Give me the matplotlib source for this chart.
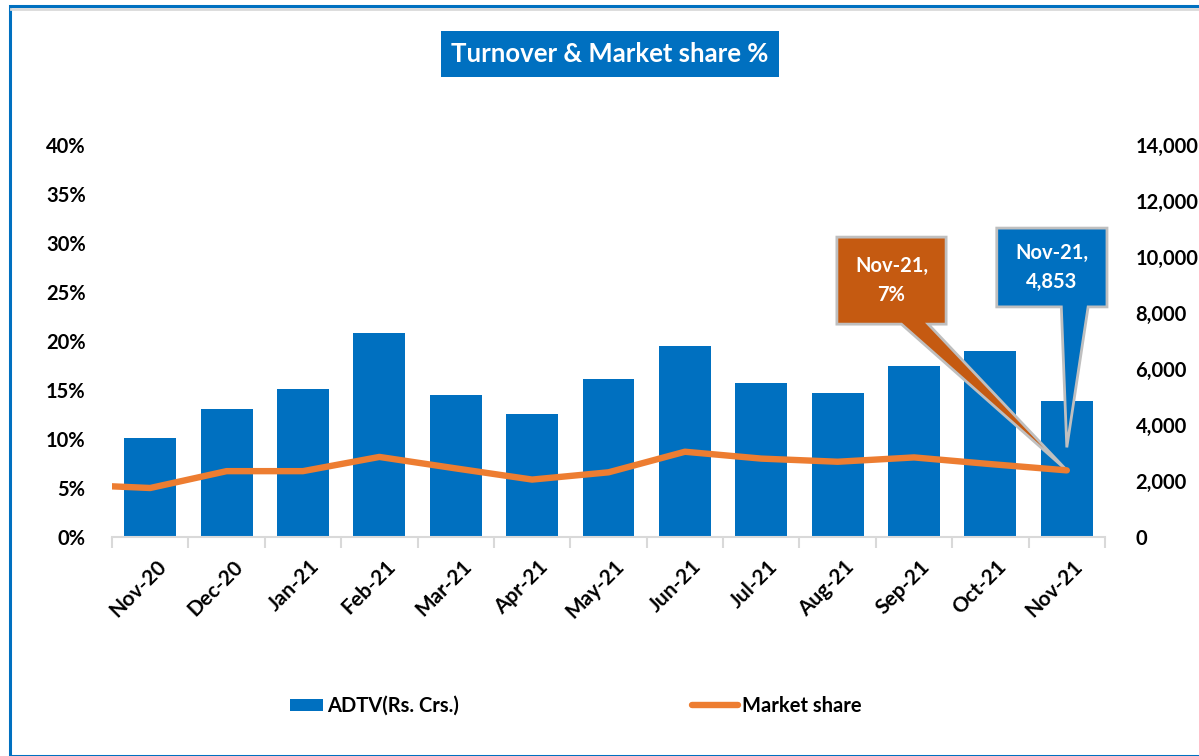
import numpy as np
import matplotlib.pyplot as plt
from matplotlib.patches import Polygon, Rectangle
from matplotlib.transforms import ScaledTranslation

# Donnees
mois = ["Nov-20", "Dec-20", "Jan-21", "Feb-21", "Mar-21", "Apr-21", "May-21",
        "Jun-21", "Jul-21", "Aug-21", "Sep-21", "Oct-21", "Nov-21"]
adtv = [3550, 4560, 5270, 7300, 5070, 4410, 5630, 6810, 5500, 5150, 6110, 6660, 4853]
# la ligne commence avant Nov-20 (point precedent coupe au bord du graphique)
part_prec = 5.34
part_marche = [5.0, 6.72, 6.72, 8.17, 7.0, 5.86, 6.6, 8.7, 8.0, 7.68, 8.12, 7.44, 6.8]

bleu = "#0070C0"
orange = "#ED7D31"
orange_fonce = "#C55A11"
police = "Lato"

plt.rcParams['font.family'] = [police, 'DejaVu Sans']
plt.rcParams['font.weight'] = 'bold'

W, H = 1199, 756
fig = plt.figure(figsize=(W / 100, H / 100), dpi=100)
fig.patch.set_facecolor("white")

# cadre bleu (haut + gauche) et ligne grise en bas
fig.add_artist(Rectangle((10 / W, 0.5 / H), 1.2, (H - 6.5) / H, transform=fig.transFigure,
                         fill=False, edgecolor=bleu, linewidth=2.2))
fig.add_artist(plt.Line2D([11 / W, 1], [(H - 9) / H] * 2, transform=fig.transFigure,
                          color="#D9D9D9", linewidth=2))

ax = fig.add_axes([112 / W, (H - 537) / H, (1105 - 112) / W, 392 / H])
ax2 = ax.twinx()

x = np.arange(len(mois))
barres = ax.bar(x, adtv, width=0.68, color=bleu, zorder=2, label="ADTV(Rs. Crs.)")
ax.set_ylim(0, 14000)
ax.set_xlim(-0.5, len(mois) - 0.5)
ax.yaxis.tick_right()
ax.set_yticks(np.arange(0, 14001, 2000))
ax.set_yticklabels([f"{v:,}" for v in range(0, 14001, 2000)], ha="left")
ax.tick_params(axis="y", length=0, pad=22, labelsize=14.5)

x_ligne = np.concatenate([[-1], x])
y_ligne = [part_prec] + part_marche
ligne, = ax2.plot(x_ligne, y_ligne, color=orange, linewidth=4.6, solid_capstyle="round",
                  label="Market share")
ax2.set_ylim(0, 40)
ax2.set_xlim(-0.5, len(mois) - 0.5)
ax2.yaxis.tick_left()
ax2.set_yticks(np.arange(0, 41, 5))
ax2.set_yticklabels([f"{v}%" for v in range(0, 41, 5)])
ax2.tick_params(axis="y", length=0, pad=19, labelsize=14.5)

for a in (ax, ax2):
    for s in ["top", "left", "right"]:
        a.spines[s].set_visible(False)
ax2.spines["bottom"].set_visible(False)
ax.spines["bottom"].set_color("#D9D9D9")
ax.spines["bottom"].set_linewidth(1.5)

# graduations entre les categories
ax.set_xticks(np.arange(-0.5, len(mois), 1.0), minor=True)
ax.tick_params(axis="x", which="minor", length=8, color="#D9D9D9", width=1.5)
ax.set_xticks(x)
ax.set_xticklabels(mois, rotation=45, ha="right", rotation_mode="anchor")
ax.tick_params(axis="x", which="major", length=0, pad=14, labelsize=15)
decal = ScaledTranslation(0.06, 0, fig.dpi_scale_trans)
for lab in ax.get_xticklabels():
    lab.set_transform(lab.get_transform() + decal)

# titre
fig.text(610 / W, (H - 54) / H, "Turnover & Market share %", ha="center", va="center",
         color="white", fontsize=18.5, fontweight="bold",
         bbox=dict(boxstyle="square,pad=0.42", facecolor=bleu, edgecolor="none"))


# bulles d'annotation
def bulle(boite, base, pointe, couleur, texte):
    x0, x1, y0, y1 = boite
    pts = [(x0, y0), (base[0], y0), pointe, (base[1], y0), (x1, y0), (x1, y1), (x0, y1)]
    ax.add_patch(Polygon(pts, closed=True, transform=ax.transAxes, facecolor=couleur,
                         edgecolor="#BFBFBF", linewidth=2, clip_on=False, zorder=5))
    ax.text((x0 + x1) / 2, (y0 + y1) / 2, texte, transform=ax.transAxes, ha="center",
            va="center", color="white", fontsize=14.5, fontweight="bold",
            linespacing=1.6, zorder=6)


inv = ax.transAxes.inverted()
pointe_part = inv.transform(ax2.transData.transform((x[-1], part_marche[-1])))
pointe_adtv = inv.transform(ax.transData.transform((x[-1], 3200)))

bulle((0.730, 0.840, 0.543, 0.765), (0.795, 0.822), pointe_part, orange_fonce,
      f"{mois[-1]},\n{round(part_marche[-1])}%")
bulle((0.891, 1.002, 0.587, 0.788), (0.956, 0.983), pointe_adtv, bleu,
      f"{mois[-1]},\n{adtv[-1]:,}")

# legende
fig.legend(handles=[barres], loc="center left", bbox_to_anchor=(272 / W, 50 / H),
           frameon=False, fontsize=14.5, handlelength=1.65, handleheight=0.6,
           handletextpad=0.2)
fig.legend(handles=[ligne], loc="center left", bbox_to_anchor=(674 / W, 50 / H),
           frameon=False, fontsize=14.5, handlelength=2.3, handletextpad=0.2)

fig.savefig("out.png", dpi=100)
